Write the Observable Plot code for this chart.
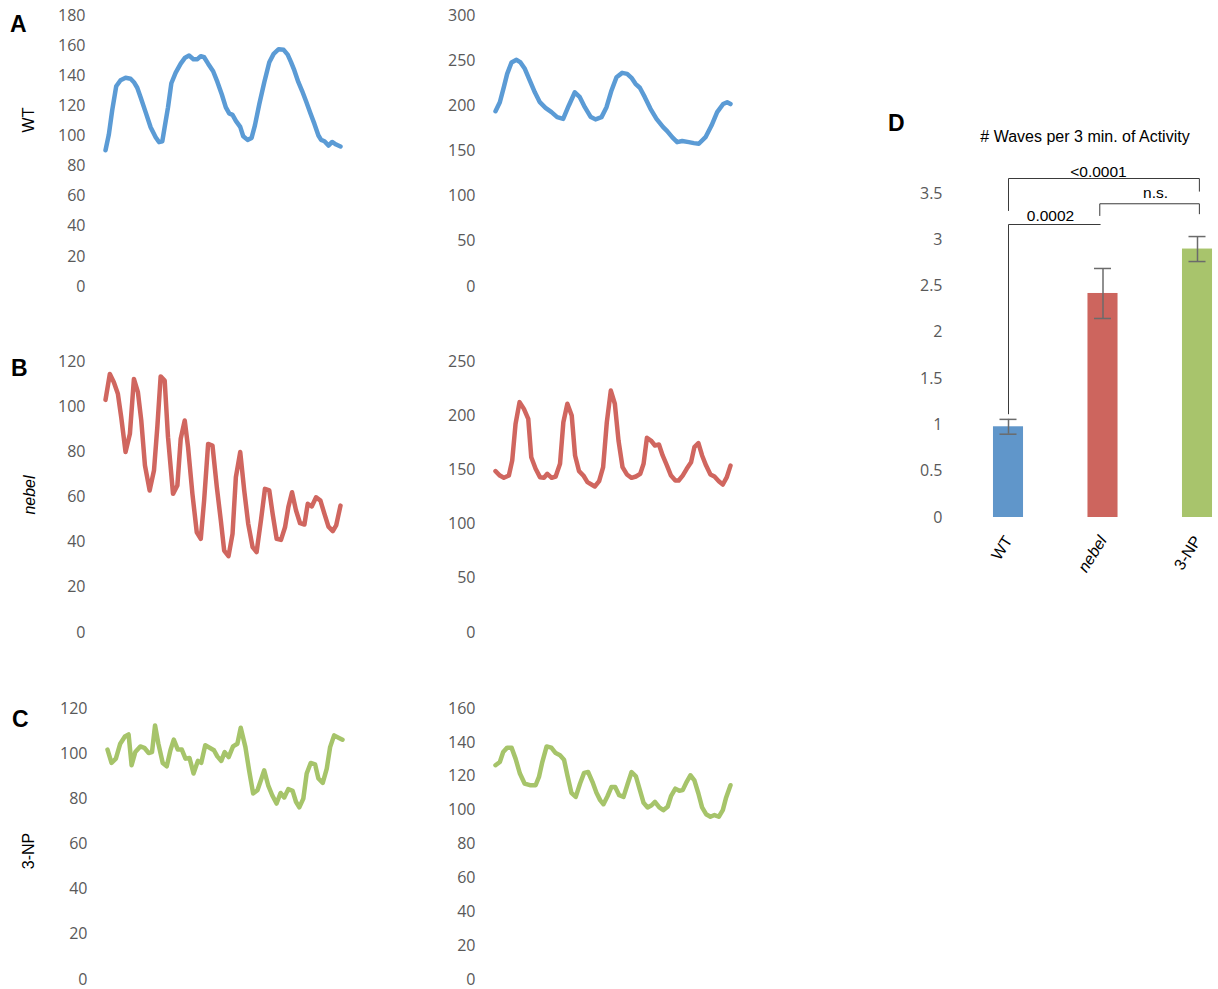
<!DOCTYPE html>
<html><head><meta charset="utf-8">
<script src="https://cdn.jsdelivr.net/npm/d3@7"></script>
<script src="https://cdn.jsdelivr.net/npm/@observablehq/plot@0.6"></script>
<style>
html,body{margin:0;padding:0;background:#fff;overflow:hidden;}
#fig{position:relative;width:1218px;height:989px;}
.panel{position:absolute;}
.lbl{position:absolute;font-family:"Liberation Sans",Arial,sans-serif;color:#000;line-height:1;white-space:nowrap;}
.letter{font-weight:bold;font-size:23px;}
.row{font-size:16px;transform:translate(-50%,-50%) rotate(-90deg);}
.title{font-size:16px;transform:translate(-50%,-50%);}
</style></head><body><div id="fig"></div>
<script>
// ---------- Data: traces as [time, intensity] ----------
const wtTrace1 = [[0,90.5],[1,101],[2,117],[3.2,133],[4.5,137],[6,138.6],[7.5,138],[8.5,135.7],[9.5,132],[10.5,125.7],[12,115.8],[13.5,105.8],[15,99.2],[16,95.9],[17,96.5],[17.7,105.8],[18.7,119],[19.7,135],[21,142],[22.5,148],[23.8,152],[25,153.4],[26.3,151],[27.5,151],[28.5,153],[29.5,152.3],[30.7,148],[32.2,143],[33.5,135.7],[34.8,127.5],[36,119],[37,115],[38,114],[39,110],[40.3,106],[41.2,99.8],[42.5,97.4],[43.7,98.7],[44.7,107],[46,121],[47.5,135.7],[49,149],[50.3,154.5],[51.8,157.6],[53.3,157.2],[54.5,154],[55.5,149],[56.5,143.5],[57.7,135.7],[58.8,130],[60,123],[61.3,115],[62.5,108],[63.7,100.3],[64.5,97.4],[65.5,96.5],[66.7,93.6],[67.8,96],[69,94.3],[70.3,93]];
const wtTrace2 = [[0,194],[1.3,204],[2.5,220.7],[3.5,235.4],[4.8,248],[6.3,251],[7.5,248],[8.8,241],[10.3,228],[11.8,215],[13.3,204],[15,197.8],[16.8,193],[18.5,187.5],[20.3,185.6],[22,200.4],[23.8,215],[25.3,209.6],[26.8,198.5],[28.5,188],[30,185],[31.8,187.5],[33.3,198.5],[34.8,217],[36.3,231.7],[38,236.5],[39.5,235.4],[40.8,231],[42,224.4],[43.3,220],[44.8,209.6],[46.5,196.7],[48.3,185.6],[50.3,176.4],[51.5,172],[53,165.3],[54.5,159.8],[56,161],[58,159.8],[59.5,158.7],[61,158],[63,165.3],[64.8,178.2],[66.5,193],[68.3,202],[69.5,204],[70.5,202]];
const nebelTrace1 = [[0,103],[1.3,114.5],[2.5,110.8],[3.7,105.7],[4.7,95.4],[6,79.9],[7.3,88],[8.5,112.3],[9.7,106.4],[10.7,93.9],[11.8,74],[13.2,62.9],[14.5,71.7],[15.5,90.9],[16.5,113.4],[17.7,111.6],[18.7,86.5],[20.2,61.4],[21.5,65.1],[22.5,85.8],[23.7,93.9],[24.7,82],[26,61.4],[27.3,44.4],[28.5,41.5],[29.5,58.4],[30.7,83.5],[32,82.8],[33.3,64.4],[34.5,49.6],[35.5,36.3],[36.8,33.8],[38,43.7],[39,68.8],[40.3,79.9],[41.5,62.9],[42.7,48.1],[44,37.8],[45.2,35.6],[46.5,49.6],[47.7,63.6],[49,62.9],[50,52.5],[51.2,41.5],[52.5,41],[53.7,46.6],[54.7,55.5],[55.8,62.1],[57,54],[58.2,48.4],[59.5,47.8],[60.5,57],[61.7,55.8],[63,59.9],[64.3,58.4],[65.5,52.5],[66.7,46.9],[68,44.9],[69,47.4],[70.3,56.2]];
const nebelTrace2 = [[0,148.8],[1.3,144.8],[2.5,142.7],[4,144.8],[5,158.7],[6,192.5],[7.2,212.5],[8.5,206.3],[9.8,197.1],[10.7,161.7],[12,151],[13.3,143.3],[14.5,142.7],[15.5,146.4],[16.8,142.7],[18,143.9],[19.3,155.6],[20.3,194],[21.5,211],[22.8,200.2],[23.8,163.3],[25,148.8],[26.3,144.8],[27.5,138.7],[28.7,136.5],[29.7,134.7],[31,139.6],[32.2,152.5],[33.3,194],[34.5,223.2],[35.7,211],[36.8,177],[38,152.5],[39.3,145.8],[40.7,142.7],[42,143.9],[43.3,146.4],[44.3,155.6],[45.3,179.6],[46.5,177.1],[47.7,172.5],[48.9,173.4],[50,163.3],[51.3,154],[52.5,144.8],[53.8,140.2],[54.8,140.2],[56,144.8],[57.2,151],[58.5,157.1],[59.5,171],[60.7,174.7],[61.8,163.3],[63,154],[64.3,145.8],[65.5,143.9],[66.8,139.6],[68,136.5],[69.2,143.3],[70.3,154]];
const npTrace1 = [[0,101.8],[1.2,95.9],[2.5,97.8],[3.8,104.4],[5.2,107.6],[6.3,108.5],[7.2,94.9],[8.3,100.7],[9.8,103.2],[11,102.6],[12.3,100.3],[13.3,100.7],[14.2,112.5],[15.2,104.4],[16.5,95.9],[17.7,94.4],[18.8,101.5],[19.8,106.2],[21,101.8],[22.2,101.8],[23.3,97.8],[24.5,98.1],[25.7,91.2],[27,96.8],[28,95.9],[29.2,103.7],[30.5,102.6],[31.8,101.5],[32.8,98.8],[34,96.8],[35,100.7],[36.2,98.5],[37.5,103.2],[38.8,104.4],[39.8,111.5],[41.2,102.9],[42.3,92.6],[43.5,82.4],[44.8,83.8],[46,89],[46.8,92.6],[48,86],[49.2,81.6],[50.5,77.9],[51.7,82.6],[52.8,80.6],[54,84.3],[55.3,83.5],[56.3,78.7],[57.3,76.2],[58.5,80.1],[59.5,91.2],[60.7,95.9],[62,95.3],[63,89],[64.3,87.1],[65.5,93.4],[66.5,102.9],[67.7,108.1],[69,107.1],[70.2,106.2]];
const npTrace2 = [[0,126.5],[1.3,128.4],[2.3,134.3],[3.5,136.9],[4.8,136.9],[6,130.4],[7.3,121.6],[8.7,115.7],[10.3,114.7],[12,114.7],[13,119.6],[14,128.4],[15.3,137.6],[16.7,136.9],[18,133.7],[19.3,132.4],[20.5,129.8],[21.5,120.6],[22.7,110.2],[24,107.8],[25.3,115.7],[26.5,122],[27.7,122.5],[29,116.7],[30.2,110.2],[31.3,105.9],[32.3,103.5],[33.5,108.2],[34.7,113.7],[35.8,113.7],[37,108.8],[38.3,107.8],[39.5,115.3],[40.7,122.5],[42,120],[43.2,111.8],[44.3,104.3],[45.5,101.6],[46.7,102.9],[47.7,104.9],[49,101.6],[50.2,100],[51.5,102],[52.5,108.2],[53.8,112.7],[55,111.4],[56,111.8],[57.2,116.7],[58.3,120.6],[59.5,117.6],[60.7,109.8],[61.8,101.6],[63,97.6],[64.3,96.1],[65.5,97.1],[66.8,96.1],[68,100],[69,107.5],[70.3,114.7]];

// tick labels for each trace panel
const ticksA1 = [0,20,40,60,80,100,120,140,160,180];
const ticksA2 = [0,50,100,150,200,250,300];
const ticksB1 = [0,20,40,60,80,100,120];
const ticksB2 = [0,50,100,150,200,250];
const ticksC1 = [0,20,40,60,80,100,120];
const ticksC2 = [0,20,40,60,80,100,120,140,160];

// Panel D data
const groups = ["WT", "nebel", "3-NP"];
const waveMeans = [0.98, 2.42, 2.90];
const waveErrors = [0.08, 0.27, 0.135];
const ticksD = [0,0.5,1,1.5,2,2.5,3,3.5];
const bracketWTnebel = [[0,1.12],[0,3.165],[0.97,3.165]];
const bracketNebel3NP = [[0.966,3.262],[0.966,3.389],[2.02,3.389],[2.02,3.281]];
const bracketWT3NP = [[0,3.316],[0,3.662],[2.02,3.662],[2.02,3.525]];
const bracketLabels = ["0.0002", "n.s.", "<0.0001"];
const bracketLabelX = [0.444, 1.556, 0.952];
const bracketLabelY = [3.252, 3.50, 3.727];

const colors = {WT: "#5B9BD5", nebel: "#D0665F", "3-NP": "#A6C46A"};
const barColors = ["#6096CA", "#CD655E", "#A8C46C"];
const tickColor = "#595959";

const fig = document.getElementById("fig");

function place(el, left, top) {
  const d = document.createElement("div");
  d.className = "panel";
  d.style.left = left + "px";
  d.style.top = top + "px";
  d.appendChild(el);
  fig.appendChild(d);
}
function label(text, cls, left, top, extra) {
  const d = document.createElement("div");
  d.className = "lbl " + cls;
  d.textContent = text;
  d.style.left = left + "px";
  d.style.top = top + "px";
  if (extra) Object.assign(d.style, extra);
  fig.appendChild(d);
}

function tracePanel(data, ticks, color, left, top, ml) {
  const svg = Plot.plot({
    width: 360, height: 300,
    marginLeft: ml, marginRight: 360 - ml - 235, marginTop: 15, marginBottom: 14,
    x: {axis: null, domain: d3.extent(data, d => d[0])},
    y: {axis: null, domain: [0, d3.max(ticks)]},
    style: {fontFamily: "'Open Sans', sans-serif", fontSize: "16px", color: tickColor, background: "transparent", overflow: "visible"},
    marks: [
      Plot.axisY({ticks, tickSize: 0, tickPadding: 20, tickFormat: d3.format("~g"), label: null, fill: tickColor}),
      Plot.line(data, {x: d => d[0], y: d => d[1], stroke: color, strokeWidth: 4.5, strokeLinejoin: "round", strokeLinecap: "round"})
    ]
  });
  place(svg, left, top);
}

tracePanel(wtTrace1, ticksA1, colors.WT, 0, 0, 105);
tracePanel(wtTrace2, ticksA2, colors.WT, 390, 0, 105);
tracePanel(nebelTrace1, ticksB1, colors.nebel, 0, 346, 105);
tracePanel(nebelTrace2, ticksB2, colors.nebel, 390, 346, 105);
tracePanel(npTrace1, ticksC1, colors["3-NP"], 2, 693, 105);
tracePanel(npTrace2, ticksC2, colors["3-NP"], 390, 693, 105);

// Panel D
const barData = groups.map((g, i) => ({i, g, mean: waveMeans[i], err: waveErrors[i]}));
const bracketData = [
  ...bracketWTnebel.map(p => ({k: "a", x: p[0], y: p[1]})),
  ...bracketNebel3NP.map(p => ({k: "b", x: p[0], y: p[1]})),
  ...bracketWT3NP.map(p => ({k: "c", x: p[0], y: p[1]}))
];
const labelData = bracketLabels.map((t, i) => ({t, x: bracketLabelX[i], y: bracketLabelY[i]}));

const D = Plot.plot({
  width: 338, height: 500,
  marginLeft: 70, marginRight: 0, marginTop: 93, marginBottom: 83,
  x: {axis: null, domain: [0, 2], range: [128, 317]},
  y: {axis: null, domain: [0, 3.5]},
  style: {fontFamily: "'Open Sans', sans-serif", fontSize: "16px", color: tickColor, background: "transparent", overflow: "visible"},
  marks: [
    Plot.axisY({ticks: ticksD, tickSize: 0, tickPadding: 8, tickFormat: d3.format("~g"), label: null, fill: tickColor}),
    Plot.rectY(barData, {x1: d => d.i - 0.159, x2: d => d.i + 0.159, y1: 0, y2: "mean", fill: (d) => barColors[d.i]}),
    Plot.ruleX(barData, {x: "i", y1: d => d.mean - d.err, y2: d => d.mean + d.err, stroke: "#6b6b6b", strokeWidth: 1.5}),
    Plot.ruleY(barData, {x1: d => d.i - 0.09, x2: d => d.i + 0.09, y: d => d.mean + d.err, stroke: "#6b6b6b", strokeWidth: 1.5}),
    Plot.ruleY(barData, {x1: d => d.i - 0.09, x2: d => d.i + 0.09, y: d => d.mean - d.err, stroke: "#6b6b6b", strokeWidth: 1.5}),
    Plot.line(bracketData, {x: "x", y: "y", z: "k", stroke: "#3a3a3a", strokeWidth: 1}),
    Plot.text(labelData, {x: "x", y: "y", text: "t", fill: "#000", fontFamily: "'Liberation Sans', Arial, sans-serif", fontSize: 15.5}),
    Plot.axisX({ticks: [0, 1, 2], tickFormat: i => groups[i], tickRotate: -58, tickSize: 0, tickPadding: 20, label: null, fill: "#000", fontFamily: "'Liberation Sans', Arial, sans-serif", fontSize: 16})
  ]
});
D.querySelectorAll("text").forEach(t => { if (t.textContent === "nebel") t.setAttribute("font-style", "italic"); });
place(D, 880, 100);

// Text labels
label("A", "letter", 10, 12.5);
label("B", "letter", 11, 356.5);
label("C", "letter", 12, 707.5);
label("D", "letter", 888, 111.5);
label("WT", "row", 29, 120);
label("nebel", "row", 30, 495, {fontStyle: "italic"});
label("3-NP", "row", 29, 851);
label("# Waves per 3 min. of Activity", "title", 1085, 137);
</script></body></html>
